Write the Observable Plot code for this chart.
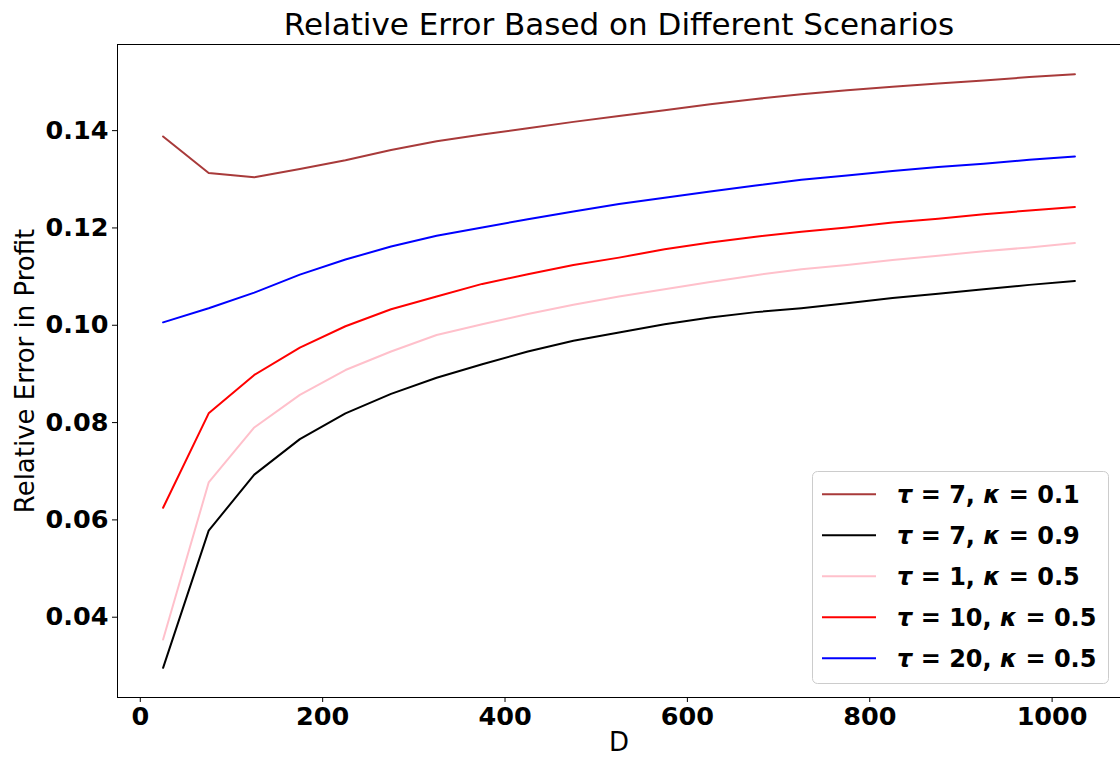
<!DOCTYPE html>
<html>
<head>
<meta charset="utf-8">
<script src="https://cdn.jsdelivr.net/npm/d3@7"></script>
<script src="https://cdn.jsdelivr.net/npm/@observablehq/plot@0.6"></script>
<style>
  html, body { margin: 0; padding: 0; background: #fff; }
  #chart svg { display: block; }
</style>
</head>
<body>
<div id="chart"></div>
<script>
const D = [25, 75, 125, 175, 225, 275, 325, 375, 425, 475, 525, 575, 625, 675, 725, 775, 825, 875, 925, 975, 1025];

const tau7_k01 = [0.1388,0.1313,0.1304,0.1321,0.1339,0.1360,0.1378,0.1392,0.1405,0.1418,0.1430,0.1442,0.1454,0.1465,0.1475,0.1483,0.1490,0.1497,0.1503,0.1510,0.1516];
const tau7_k09 = [0.0296,0.0578,0.0693,0.0766,0.0819,0.0859,0.0892,0.0920,0.0946,0.0968,0.0985,0.1002,0.1016,0.1027,0.1035,0.1045,0.1056,0.1065,0.1074,0.1083,0.1091];
const tau1_k05 = [0.0354,0.0677,0.0790,0.0857,0.0908,0.0946,0.0980,0.1002,0.1023,0.1042,0.1059,0.1074,0.1089,0.1103,0.1115,0.1124,0.1134,0.1143,0.1152,0.1160,0.1169];
const tau10_k05 = [0.0625,0.0819,0.0898,0.0954,0.0998,0.1033,0.1059,0.1085,0.1105,0.1124,0.1139,0.1156,0.1170,0.1182,0.1192,0.1201,0.1211,0.1219,0.1228,0.1236,0.1243];
const tau20_k05 = [0.1006,0.1035,0.1067,0.1104,0.1135,0.1162,0.1184,0.1201,0.1218,0.1234,0.1249,0.1262,0.1275,0.1287,0.1299,0.1308,0.1317,0.1325,0.1332,0.1340,0.1347];

const seriesTau = ["7", "7", "1", "10", "20"];
const seriesKappa = ["0.1", "0.9", "0.5", "0.5", "0.5"];
const seriesColors = ["#a83a3a", "black", "pink", "red", "blue"];
const seriesValues = [tau7_k01, tau7_k09, tau1_k05, tau10_k05, tau20_k05];
const seriesNames = seriesTau.map((t, i) => `τ = ${t}, κ = ${seriesKappa[i]}`);

const xTicks = [0, 200, 400, 600, 800, 1000];
const yTicks = [0.04, 0.06, 0.08, 0.10, 0.12, 0.14];

const titleText = "Relative Error Based on Different Scenarios";
const xLabel = "D";
const yLabel = "Relative Error in Profit";

const rows = [];
seriesValues.forEach((vals, i) => {
  vals.forEach((v, j) => rows.push({ D: D[j], value: v, series: seriesNames[i] }));
});

const font = "DejaVu Sans, sans-serif";

const chart = Plot.plot({
  width: 1120,
  height: 758,
  marginLeft: 117,
  marginRight: 0,
  marginTop: 44,
  marginBottom: 61,
  style: { fontFamily: font, background: "#fff", color: "#000" },
  x: { domain: [-25, 1075], label: null },
  y: { domain: [0.0235, 0.1577], label: null },
  color: { domain: seriesNames, range: seriesColors },
  marks: [
    Plot.line(rows, { x: "D", y: "value", z: "series", stroke: "series", strokeWidth: 2 }),
    Plot.frame({ stroke: "#000", strokeWidth: 1 }),
    Plot.axisX({ ticks: xTicks, tickFormat: d => String(d), tickSize: 5, tickPadding: 4, fontSize: 25.5, fontWeight: "bold", label: null }),
    Plot.axisY({ ticks: yTicks, tickFormat: d3.format(".2f"), tickSize: 5, tickPadding: 4, fontSize: 25.5, fontWeight: "bold", label: null }),
    Plot.text([titleText], { frameAnchor: "top", lineAnchor: "middle", dy: -19, fontSize: 31, text: d => d }),
    Plot.text([xLabel], { frameAnchor: "bottom", lineAnchor: "middle", dy: 45, fontSize: 26, text: d => d }),
    Plot.text([yLabel], { frameAnchor: "left", textAnchor: "middle", lineAnchor: "middle", dx: -92, rotate: -90, fontSize: 26, text: d => d })
  ]
});

document.getElementById("chart").appendChild(chart);

// Legend (lower right)
const svg = d3.select(chart);
const lg = svg.append("g").attr("font-family", font).attr("text-anchor", "start");
const bx = 812.5, by = 471.5, bw = 296, bh = 212;
lg.append("rect").attr("x", bx).attr("y", by).attr("width", bw).attr("height", bh)
  .attr("rx", 5).attr("fill", "#fff").attr("fill-opacity", 0.8)
  .attr("stroke", "#ccc").attr("stroke-width", 1);
seriesNames.forEach((name, i) => {
  const cy = 494.3 + i * 41;
  lg.append("line").attr("x1", 822).attr("x2", 876).attr("y1", cy).attr("y2", cy)
    .attr("stroke", seriesColors[i]).attr("stroke-width", 2);
  const t = lg.append("text").attr("x", 897).attr("y", cy).attr("dy", "0.36em")
    .attr("text-anchor", "start")
    .attr("font-size", 24).attr("font-weight", "bold").attr("fill", "#000");
  t.append("tspan").attr("font-style", "italic").text("τ");
  t.append("tspan").text(` = ${seriesTau[i]}, `);
  t.append("tspan").attr("font-style", "italic").text("κ");
  t.append("tspan").text(` = ${seriesKappa[i]}`);
});
</script>
</body>
</html>
